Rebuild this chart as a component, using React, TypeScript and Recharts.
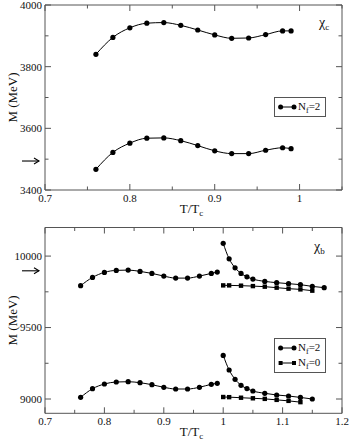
import React from 'react';
import { LineChart, Line, XAxis, YAxis, Legend } from 'recharts';

const FONT = 'Liberation Serif, Times New Roman, Times, serif';
const FRAME = '#555';
const INK = '#111';

// ---------- chi_c panel (top) ----------
const tempCharm = [0.76, 0.78, 0.8, 0.82, 0.84, 0.86, 0.88, 0.9, 0.92, 0.94, 0.96, 0.98, 0.99];
const chiCUpper = [3840, 3895, 3926, 3941, 3943, 3934, 3919, 3903, 3892, 3893, 3904, 3916, 3916];
const chiCLower = [3467, 3522, 3552, 3568, 3569, 3560, 3544, 3527, 3518, 3518, 3529, 3537, 3534];
const chiCArrowMass = 3494;
const charmXMajor = [0.7, 0.8, 0.9, 1.0];
const charmXMinor = [0.75, 0.85, 0.95, 1.05];
const charmYMajor = [3400, 3600, 3800, 4000];
const charmYMinor = [3500, 3700, 3900];

// ---------- chi_b panel (bottom) ----------
const tempBelow = [0.76, 0.78, 0.8, 0.82, 0.84, 0.86, 0.88, 0.9, 0.92, 0.94, 0.96, 0.98, 0.99];
const chiBUpperBelow = [9793, 9851, 9886, 9900, 9902, 9893, 9879, 9860, 9846, 9846, 9860, 9879, 9888];
const chiBLowerBelow = [9012, 9072, 9105, 9119, 9121, 9114, 9100, 9082, 9070, 9070, 9082, 9103, 9110];
const tempNf2Upper = [1.0, 1.01, 1.02, 1.03, 1.04, 1.05, 1.07, 1.09, 1.11, 1.13, 1.15, 1.17];
const chiBUpperNf2 = [10089, 9981, 9918, 9879, 9855, 9839, 9823, 9814, 9807, 9800, 9788, 9779];
const tempNf2Lower = [1.0, 1.01, 1.02, 1.03, 1.04, 1.05, 1.07, 1.09, 1.11, 1.13, 1.15];
const chiBLowerNf2 = [9305, 9203, 9138, 9096, 9073, 9056, 9040, 9028, 9021, 9011, 9000];
const tempNf0Upper = [1.0, 1.01, 1.03, 1.05, 1.07, 1.09, 1.11, 1.13, 1.15];
const chiBUpperNf0 = [9795, 9795, 9793, 9790, 9786, 9779, 9772, 9767, 9758];
const tempNf0Lower = [1.0, 1.01, 1.03, 1.05, 1.07, 1.09, 1.11, 1.13];
const chiBLowerNf0 = [9014, 9013, 9009, 9005, 9001, 8994, 8987, 8978];
const chiBArrowMass = 9897;
const bottomXMajor = [0.7, 0.8, 0.9, 1.0, 1.1, 1.2];
const bottomXMinor = [0.75, 0.85, 0.95, 1.05, 1.15];
const bottomYMajor = [9000, 9500, 10000];
const bottomYMinor = [9250, 9750];

const legendTop = [{ nf: '2', shape: 'circle' }];
const legendBottom = [
  { nf: '2', shape: 'circle' },
  { nf: '0', shape: 'square' },
];

const zip = (xs: number[], ys: number[]) => xs.map((t, i) => ({ t, m: ys[i] }));
const near = (a: number, list: number[]) => list.some((v) => Math.abs(v - a) < 1e-9);
const sorted = (a: number[], b: number[]) => [...a, ...b].sort((p, q) => p - q);

const MAJOR = 6;
const MINOR = 3.5;

function XTickBottom(props: any) {
  const { x, y, payload, majors } = props;
  const major = near(payload.value, majors);
  return (
    <g>
      <line x1={x} x2={x} y1={y} y2={y - (major ? MAJOR : MINOR)} stroke={FRAME} strokeWidth={1} />
      {major && (
        <text x={x} y={y + 12} textAnchor="middle" fontFamily={FONT} fontSize={11} fill={INK}>
          {String(payload.value)}
        </text>
      )}
    </g>
  );
}

function XTickTop(props: any) {
  const { x, y, payload, majors } = props;
  const major = near(payload.value, majors);
  return <line x1={x} x2={x} y1={y} y2={y + (major ? MAJOR : MINOR)} stroke={FRAME} strokeWidth={1} />;
}

function YTickLeft(props: any) {
  const { x, y, payload, majors, arrow } = props;
  if (Math.abs(payload.value - arrow) < 1e-9) {
    const x0 = x - 23;
    const x1 = x - 6;
    return (
      <g>
        <line x1={x0} x2={x1} y1={y} y2={y} stroke="#000" strokeWidth={1.1} />
        <polyline points={`${x1 - 5},${y - 3} ${x1},${y} ${x1 - 5},${y + 3}`} fill="none" stroke="#000" strokeWidth={1.1} />
      </g>
    );
  }
  const major = near(payload.value, majors);
  return (
    <g>
      <line x1={x} x2={x + (major ? MAJOR : MINOR)} y1={y} y2={y} stroke={FRAME} strokeWidth={1} />
      {major && (
        <text x={x - 3} y={y} dy="0.35em" textAnchor="end" fontFamily={FONT} fontSize={11} fill={INK}>
          {String(payload.value)}
        </text>
      )}
    </g>
  );
}

function YTickRight(props: any) {
  const { x, y, payload, majors } = props;
  const major = near(payload.value, majors);
  return <line x1={x} x2={x - (major ? MAJOR : MINOR)} y1={y} y2={y} stroke={FRAME} strokeWidth={1} />;
}

function YLabel(props: any) {
  const vb = props.viewBox || {};
  const cx = 12;
  const cy = vb.y + vb.height / 2;
  return (
    <text x={cx} y={cy} transform={`rotate(-90 ${cx} ${cy})`} textAnchor="middle" dy="0.35em" fontFamily={FONT} fontSize={13} fill={INK}>
      M (MeV)
    </text>
  );
}

function XLabel(props: any) {
  const vb = props.viewBox || {};
  return (
    <text x={vb.x + vb.width / 2 - 2} y={vb.y + 23} textAnchor="middle" fontFamily={FONT} fontSize={13} fill={INK}>
      T/T
      <tspan fontSize={9} dy={3}>c</tspan>
    </text>
  );
}

function ChiLabel(props: any) {
  const vb = props.viewBox || {};
  const { sub, dx, dy } = props;
  return (
    <text x={vb.x + vb.width + dx} y={vb.y + vb.height + dy} fontFamily={FONT} fontSize={14} fill={INK}>
      χ<tspan fontSize={9} dy={3}>{sub}</tspan>
    </text>
  );
}

const circleDot = (p: any) => <circle key={`c-${p.index}-${p.cx}`} cx={p.cx} cy={p.cy} r={2.6} fill="#000" />;
const squareDot = (p: any) => <rect key={`s-${p.index}-${p.cx}`} x={p.cx - 2.2} y={p.cy - 2.2} width={4.4} height={4.4} fill="#000" />;

function LegendBox({ items, height }: { items: { nf: string; shape: string }[]; height: number }) {
  return (
    <div
      style={{
        boxSizing: 'border-box',
        width: 52,
        height,
        border: `1px solid ${FRAME}`,
        background: '#fff',
        paddingLeft: 3,
        display: 'flex',
        flexDirection: 'column',
        justifyContent: 'center',
        fontFamily: FONT,
        fontSize: 11,
        color: INK,
      }}
    >
      {items.map((it) => (
        <div key={it.nf} style={{ display: 'flex', alignItems: 'center', height: 15 }}>
          <svg width={20} height={8} style={{ display: 'block' }}>
            <line x1={2} x2={16} y1={4} y2={4} stroke="#000" strokeWidth={1} />
            {it.shape === 'circle' ? (
              <>
                <circle cx={2.6} cy={4} r={2.5} fill="#000" />
                <circle cx={16} cy={4} r={2.5} fill="#000" />
              </>
            ) : (
              <>
                <rect x={0.6} y={2} width={4} height={4} fill="#000" />
                <rect x={14} y={2} width={4} height={4} fill="#000" />
              </>
            )}
          </svg>
          <span style={{ whiteSpace: 'nowrap', lineHeight: '15px' }}>
            N<span style={{ fontSize: 8, position: 'relative', top: 3 }}>f</span>={it.nf}
          </span>
        </div>
      ))}
    </div>
  );
}

const axisCommon = {
  type: 'number' as const,
  allowDataOverflow: true,
  interval: 0 as const,
  tickSize: 0,
  tickMargin: 0,
  axisLine: { stroke: FRAME },
  tickLine: false,
};

export default function App() {
  const topXTicks = sorted(charmXMajor, charmXMinor);
  const topYTicks = sorted(charmYMajor, charmYMinor);
  const botXTicks = sorted(bottomXMajor, bottomXMinor);
  const botYTicks = sorted(bottomYMajor, bottomYMinor);

  return (
    <div style={{ position: 'absolute', left: 0, top: 0, width: 349, height: 443, background: '#fff' }}>
      <div style={{ position: 'absolute', left: 0, top: 0 }}>
        <LineChart width={349} height={220} margin={{ top: 4, right: 6, bottom: 29, left: 44 }}>
          <XAxis
            {...axisCommon}
            xAxisId="b"
            dataKey="t"
            domain={[0.7, 1.05]}
            ticks={topXTicks}
            height={1}
            tick={(p: any) => <XTickBottom {...p} majors={charmXMajor} />}
            label={<XLabel />}
          />
          <XAxis
            {...axisCommon}
            xAxisId="t"
            orientation="top"
            dataKey="t"
            domain={[0.7, 1.05]}
            ticks={topXTicks}
            height={1}
            tick={(p: any) => <XTickTop {...p} majors={charmXMajor} />}
            label={<ChiLabel sub="c" dx={-23} dy={22} />}
          />
          <YAxis
            {...axisCommon}
            yAxisId="l"
            domain={[3400, 4000]}
            ticks={sorted(topYTicks, [chiCArrowMass])}
            width={1}
            tick={(p: any) => <YTickLeft {...p} majors={charmYMajor} arrow={chiCArrowMass} />}
            label={<YLabel />}
          />
          <YAxis
            {...axisCommon}
            yAxisId="r"
            orientation="right"
            domain={[3400, 4000]}
            ticks={topYTicks}
            width={1}
            tick={(p: any) => <YTickRight {...p} majors={charmYMajor} />}
          />
          <Line xAxisId="b" yAxisId="l" data={zip(tempCharm, chiCUpper)} dataKey="m" type="monotone" stroke="#000" strokeWidth={1} dot={circleDot} activeDot={false} isAnimationActive={false} legendType="none" />
          <Line xAxisId="b" yAxisId="l" data={zip(tempCharm, chiCLower)} dataKey="m" type="monotone" stroke="#000" strokeWidth={1} dot={circleDot} activeDot={false} isAnimationActive={false} legendType="none" />
          <Legend
            layout="vertical"
            align="center"
            verticalAlign="middle"
            wrapperStyle={{ left: 274, top: 97, width: 52 }}
            content={() => <LegendBox items={legendTop} height={20} />}
          />
        </LineChart>
      </div>

      <div style={{ position: 'absolute', left: 0, top: 220 }}>
        <LineChart width={349} height={223} margin={{ top: 6.5, right: 6, bottom: 28.7, left: 44 }}>
          <XAxis
            {...axisCommon}
            xAxisId="b"
            dataKey="t"
            domain={[0.7, 1.2]}
            ticks={botXTicks}
            height={1}
            tick={(p: any) => <XTickBottom {...p} majors={bottomXMajor} />}
            label={<XLabel />}
          />
          <XAxis
            {...axisCommon}
            xAxisId="t"
            orientation="top"
            dataKey="t"
            domain={[0.7, 1.2]}
            ticks={botXTicks}
            height={1}
            tick={(p: any) => <XTickTop {...p} majors={bottomXMajor} />}
            label={<ChiLabel sub="b" dx={-28} dy={23.5} />}
          />
          <YAxis
            {...axisCommon}
            yAxisId="l"
            domain={[8900, 10200]}
            ticks={sorted(botYTicks, [chiBArrowMass])}
            width={1}
            tick={(p: any) => <YTickLeft {...p} majors={bottomYMajor} arrow={chiBArrowMass} />}
            label={<YLabel />}
          />
          <YAxis
            {...axisCommon}
            yAxisId="r"
            orientation="right"
            domain={[8900, 10200]}
            ticks={botYTicks}
            width={1}
            tick={(p: any) => <YTickRight {...p} majors={bottomYMajor} />}
          />
          <Line xAxisId="b" yAxisId="l" data={zip(tempBelow, chiBUpperBelow)} dataKey="m" type="monotone" stroke="#000" strokeWidth={1} dot={circleDot} activeDot={false} isAnimationActive={false} legendType="none" />
          <Line xAxisId="b" yAxisId="l" data={zip(tempBelow, chiBLowerBelow)} dataKey="m" type="monotone" stroke="#000" strokeWidth={1} dot={circleDot} activeDot={false} isAnimationActive={false} legendType="none" />
          <Line xAxisId="b" yAxisId="l" data={zip(tempNf2Upper, chiBUpperNf2)} dataKey="m" type="monotone" stroke="#000" strokeWidth={1} dot={circleDot} activeDot={false} isAnimationActive={false} legendType="none" />
          <Line xAxisId="b" yAxisId="l" data={zip(tempNf2Lower, chiBLowerNf2)} dataKey="m" type="monotone" stroke="#000" strokeWidth={1} dot={circleDot} activeDot={false} isAnimationActive={false} legendType="none" />
          <Line xAxisId="b" yAxisId="l" data={zip(tempNf0Upper, chiBUpperNf0)} dataKey="m" type="monotone" stroke="#000" strokeWidth={1} dot={squareDot} activeDot={false} isAnimationActive={false} legendType="none" />
          <Line xAxisId="b" yAxisId="l" data={zip(tempNf0Lower, chiBLowerNf0)} dataKey="m" type="monotone" stroke="#000" strokeWidth={1} dot={squareDot} activeDot={false} isAnimationActive={false} legendType="none" />
          <Legend
            layout="vertical"
            align="center"
            verticalAlign="middle"
            wrapperStyle={{ left: 274, top: 117.7, width: 52 }}
            content={() => <LegendBox items={legendBottom} height={35} />}
          />
        </LineChart>
      </div>
    </div>
  );
}
